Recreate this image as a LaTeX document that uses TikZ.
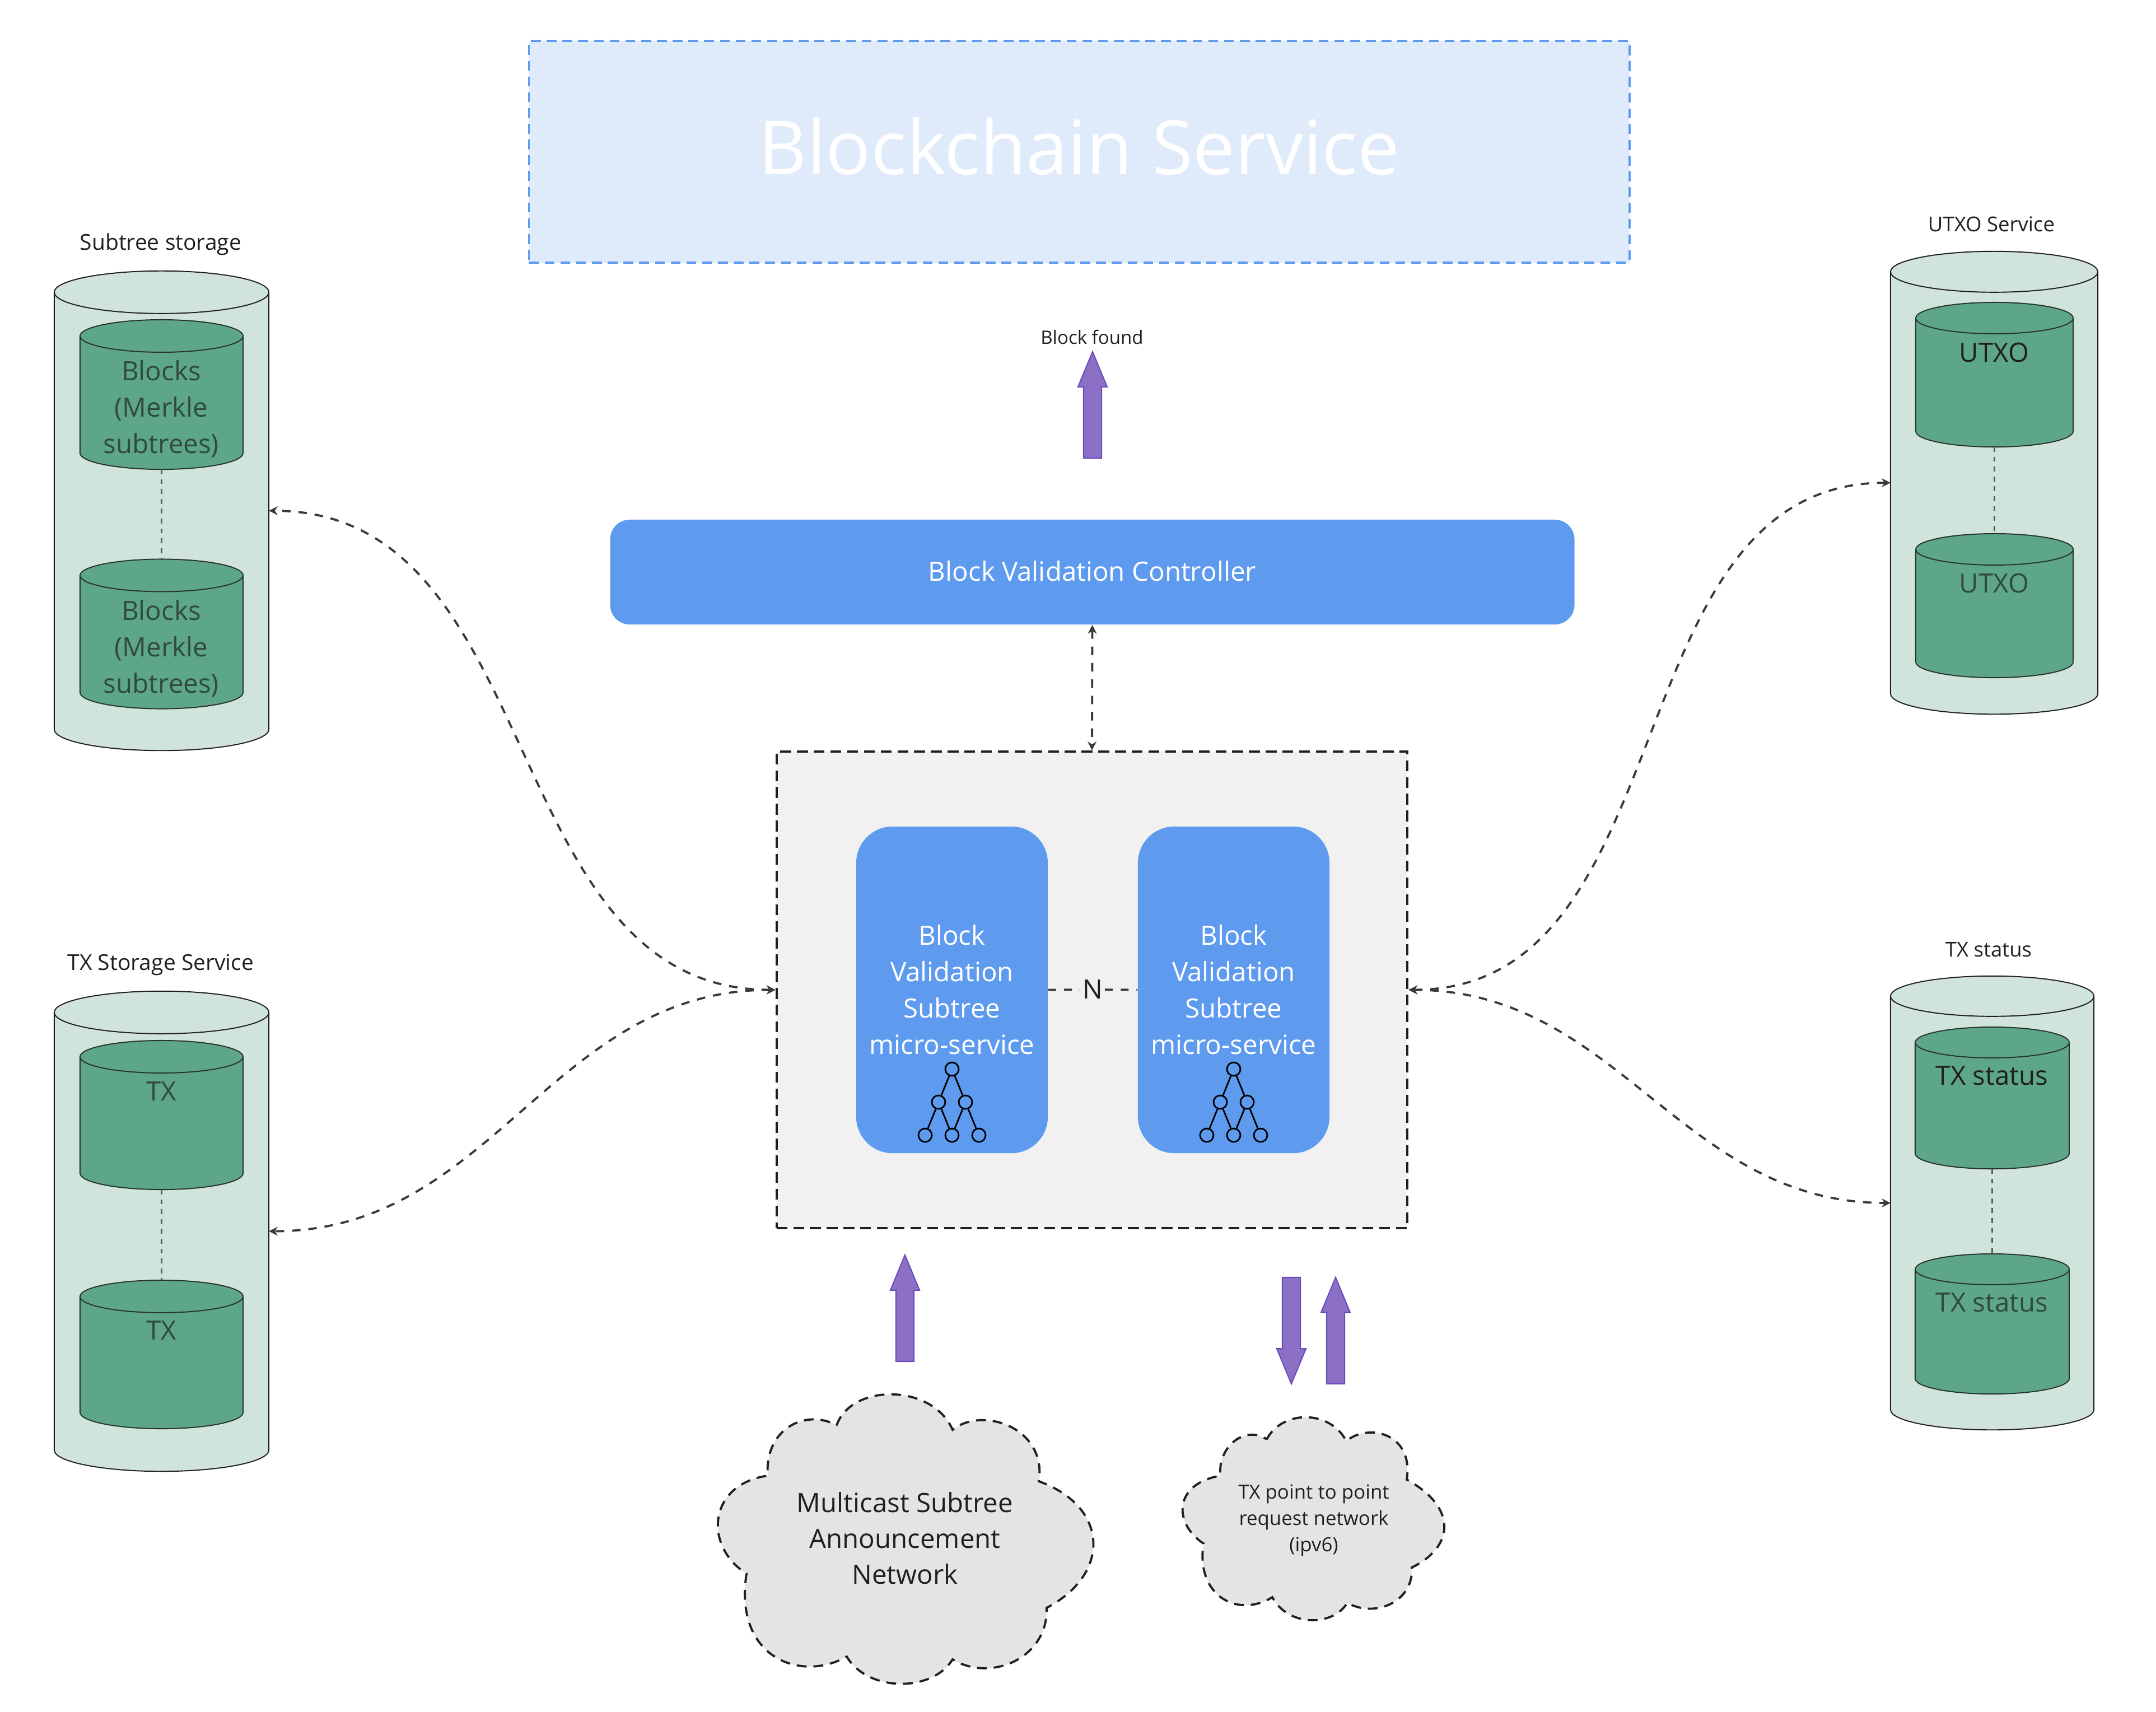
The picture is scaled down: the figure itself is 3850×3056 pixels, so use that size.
\documentclass[tikz,border=0pt]{standalone}
\usepackage{fontspec}
\setmainfont{Open Sans}
\usetikzlibrary{arrows.meta,shapes.arrows}
\definecolor{blockblue}{HTML}{5E9BEF}
\definecolor{titlefill}{HTML}{DFEAFB}
\definecolor{boxgray}{HTML}{F1F1F1}
\definecolor{cloudgray}{HTML}{E4E4E4}
\definecolor{outergreen}{HTML}{D0E4DC}
\definecolor{innergreen}{HTML}{5EA688}
\definecolor{darkgreen}{HTML}{2F4A3F}
\definecolor{arrowfill}{HTML}{8B70C5}
\definecolor{arrowline}{HTML}{6A4CBF}
\definecolor{inkgray}{HTML}{1F1F1F}
\definecolor{linkgray}{HTML}{3A3A3A}
\tikzset{
    dbslot/.style={inner sep=0pt,outer sep=0pt},
    outerdb/.style={draw=inkgray,line width=0.55pt,fill=outergreen},
    innerdb/.style={draw=inkgray!85!innergreen,line width=0.55pt,fill=innergreen},
    dblabel/.style={align=center,text=darkgreen,font=\fontsize{13.5}{18.5}\selectfont},
    toplabel/.style={text=inkgray,font=\fontsize{11.1}{14}\selectfont},
    sidelabel/.style={text=inkgray,font=\fontsize{10.4}{14}\selectfont},
    microbox/.style={draw=none,fill=blockblue,rounded corners=0.65cm,minimum width=3.42cm,minimum height=5.83cm,inner sep=0pt},
    microtext/.style={align=center,text=white,font=\fontsize{13.5}{18.5}\selectfont},
    treenode/.style={circle,draw=black,line width=0.8pt,minimum size=0.24cm,inner sep=0pt},
    treeline/.style={black,line width=0.8pt},
    fatarrow/.style={single arrow,draw=arrowline,line width=0.6pt,fill=arrowfill,minimum height=1.9cm,single arrow head extend=0.1cm,single arrow tip angle=45,inner xsep=0pt,inner ysep=0.15cm,outer sep=0pt,anchor=tail},
    linkline/.style={dash pattern=on 4.3pt off 4pt,line width=1.1pt,draw=linkgray,{Stealth[length=4.5pt,width=4.5pt]}-{Stealth[length=4.5pt,width=4.5pt]}},
    dbline/.style={dash pattern=on 2.5pt off 2.5pt,line width=0.8pt,draw=darkgreen!85!white},
    countline/.style={dash pattern=on 4pt off 4pt,line width=1.1pt,draw=linkgray},
    cloudshape/.style={draw=inkgray,fill=cloudgray,line width=1.1pt,dash pattern=on 5pt off 3.5pt}
}
% name, centre x, centre y, width, height, end radius (cm), style
\newcommand{\dbnode}[7]{
    \node[dbslot,minimum width=#4cm,minimum height=#5cm] (#1) at (#2,#3) {};
    \draw[#7] ([yshift=-#6cm]#1.north west) -- ([yshift=#6cm]#1.south west)
        arc[start angle=180,end angle=360,x radius=#4cm/2,y radius=#6cm]
        -- ([yshift=-#6cm]#1.north east)
        arc[start angle=0,end angle=180,x radius=#4cm/2,y radius=#6cm] -- cycle;
    \draw[#7,fill=none] ([yshift=-#6cm]#1.north west)
        arc[start angle=180,end angle=360,x radius=#4cm/2,y radius=#6cm];
}
\begin{document}
\begin{tikzpicture}[x=0.01cm,y=-0.01cm]
    \useasboundingbox (0,0) rectangle (3850,3056);
    % top row
    \node[draw=blockblue,fill=titlefill,line width=1.1pt,dash pattern=on 5pt off 3pt,minimum width=19.64cm,minimum height=3.95cm,inner sep=0pt] (chain) at (1927,271) {};
    \node[text=white,font=\fontsize{38}{44}\selectfont] (chaintext) at (1927,261) {Blockchain Service};
    \node[text=inkgray,font=\fontsize{9.4}{11}\selectfont] (found) at (1950,602) {Block found};
    \node[fatarrow,rotate=90] (foundarrow) at (1951,818) {};
    \node[fill=blockblue,rounded corners=0.35cm,minimum width=17.21cm,minimum height=1.87cm,inner sep=0pt] (controller) at (1950.5,1021.5) {};
    \node[text=white,font=\fontsize{13.5}{18.5}\selectfont] (controllertext) at (1950.5,1019.5) {Block Validation Controller};

    % micro-services
    \node[draw=inkgray,fill=boxgray,line width=1.1pt,dash pattern=on 5.5pt off 3pt,minimum width=11.26cm,minimum height=8.51cm,inner sep=0pt] (cluster) at (1950,1767.5) {};
    \foreach \x/\name in {1700/subA,2203/subB}
    {
        \node[microbox] (\name) at (\x,1767.5) {};
        \node[microtext] (\name text) at (\x,1767) {Block\\Validation\\Subtree\\micro-service};
        \node[treenode] (\name top) at (\x,1909) {};
        \node[treenode] (\name l) at (\x-24,1968) {};
        \node[treenode] (\name r) at (\x+24,1968) {};
        \node[treenode] (\name a) at (\x-48,2027) {};
        \node[treenode] (\name b) at (\x,2027) {};
        \node[treenode] (\name c) at (\x+48,2027) {};
        \draw[treeline] (\name top) -- (\name l);
        \draw[treeline] (\name top) -- (\name r);
        \draw[treeline] (\name l) -- (\name a);
        \draw[treeline] (\name l) -- (\name b);
        \draw[treeline] (\name r) -- (\name b);
        \draw[treeline] (\name r) -- (\name c);
    }
    \node[fill=boxgray,inner sep=1pt,text=inkgray,font=\fontsize{13.5}{18.5}\selectfont] (count) at (1951,1767) {N};
    \draw[countline] (subA.east) -- (count);
    \draw[countline] (count) -- (subB.west);

    % stores, left
    \node[toplabel] (subtreetitle) at (287,436) {Subtree storage};
    \dbnode{subtreedb}{288.5}{912}{3.83}{8.56}{0.38}{outerdb}
    \dbnode{blocksA}{288.5}{704.5}{2.91}{2.67}{0.29}{innerdb}
    \dbnode{blocksB}{288.5}{1132}{2.91}{2.67}{0.29}{innerdb}
    \node[dblabel] (blocksAtext) at (288,730) {Blocks\\(Merkle\\subtrees)};
    \node[dblabel] (blocksBtext) at (288,1158) {Blocks\\(Merkle\\subtrees)};
    \draw[dbline] (blocksA.south) -- (blocksB.north);

    \node[toplabel] (txtitle) at (287,1723) {TX Storage Service};
    \dbnode{txdb}{288.5}{2198.5}{3.83}{8.57}{0.38}{outerdb}
    \dbnode{txA}{288.5}{1991}{2.91}{2.66}{0.29}{innerdb}
    \dbnode{txB}{288.5}{2418.5}{2.91}{2.65}{0.29}{innerdb}
    \node[dblabel] (txAtext) at (288,1949) {TX};
    \node[dblabel] (txBtext) at (288,2376) {TX};
    \draw[dbline] (txA.south) -- (txB.north);

    % stores, right
    \node[sidelabel] (utxotitle) at (3556,400) {UTXO Service};
    \dbnode{utxodb}{3561}{862}{3.70}{8.26}{0.365}{outerdb}
    \dbnode{utxoA}{3561.5}{669}{2.81}{2.58}{0.28}{innerdb}
    \dbnode{utxoB}{3561.5}{1081.5}{2.81}{2.57}{0.28}{innerdb}
    \node[dblabel,text=inkgray] (utxoAtext) at (3561,629) {UTXO};
    \node[dblabel] (utxoBtext) at (3561,1041) {UTXO};
    \draw[dbline] (utxoA.south) -- (utxoB.north);

    \node[sidelabel] (statustitle) at (3551,1696) {TX status};
    \dbnode{statusdb}{3557.5}{2148}{3.63}{8.10}{0.36}{outerdb}
    \dbnode{statusA}{3557.5}{1960.5}{2.75}{2.53}{0.275}{innerdb}
    \dbnode{statusB}{3557.5}{2364}{2.75}{2.50}{0.275}{innerdb}
    \node[dblabel,text=inkgray] (statusAtext) at (3557,1921) {TX status};
    \node[dblabel] (statusBtext) at (3557,2326) {TX status};
    \draw[dbline] (statusA.south) -- (statusB.north);

    % links
    \draw[linkline] (controller.south) -- (cluster.north);
    \draw[linkline] (cluster.west) .. controls +(-500,0) and +(500,0) .. (subtreedb.east);
    \draw[linkline] (cluster.west) .. controls +(-400,0) and +(400,0) .. (txdb.east);
    \draw[linkline] (cluster.east) .. controls +(500,0) and +(-500,0) .. (utxodb.west);
    \draw[linkline] (cluster.east) .. controls +(375,0) and +(-375,0) .. (statusdb.west);

    % networks
    \node[fatarrow,rotate=90] (multiarrow) at (1616,2431) {};
    \node[fatarrow,rotate=-90] (txdown) at (2306,2281) {};
    \node[fatarrow,rotate=90] (txup) at (2385,2471) {};
    \draw[cloudshape] (1494,2545) .. controls (1520,2470) and (1665,2470) .. (1701,2553)
        .. controls (1755,2510) and (1870,2550) .. (1855,2645)
        .. controls (1980,2690) and (1985,2810) .. (1869,2871)
        .. controls (1872,2960) and (1770,3005) .. (1701,2963)
        .. controls (1665,3022) and (1550,3022) .. (1512,2958)
        .. controls (1430,3005) and (1310,2960) .. (1333,2810)
        .. controls (1255,2760) and (1265,2650) .. (1371,2635)
        .. controls (1365,2550) and (1440,2515) .. (1494,2545) -- cycle;
    \draw[cloudshape] (2262,2570) .. controls (2290,2517) and (2375,2517) .. (2404,2573)
        .. controls (2445,2540) and (2525,2560) .. (2512,2642)
        .. controls (2600,2690) and (2600,2760) .. (2521,2799)
        .. controls (2525,2860) and (2455,2890) .. (2406,2862)
        .. controls (2380,2905) and (2300,2905) .. (2272,2852)
        .. controls (2210,2890) and (2135,2850) .. (2149,2756)
        .. controls (2095,2720) and (2095,2650) .. (2179,2635)
        .. controls (2175,2580) and (2225,2545) .. (2262,2570) -- cycle;
    \node[align=center,text=inkgray,font=\fontsize{13.5}{18.2}\selectfont] (multitext) at (1616,2747) {Multicast Subtree\\Announcement\\Network};
    \node[align=center,text=inkgray,font=\fontsize{9.9}{13.4}\selectfont] (p2ptext) at (2346,2715) {TX point to point\\request network\\(ipv6)};
\end{tikzpicture}
\end{document}
